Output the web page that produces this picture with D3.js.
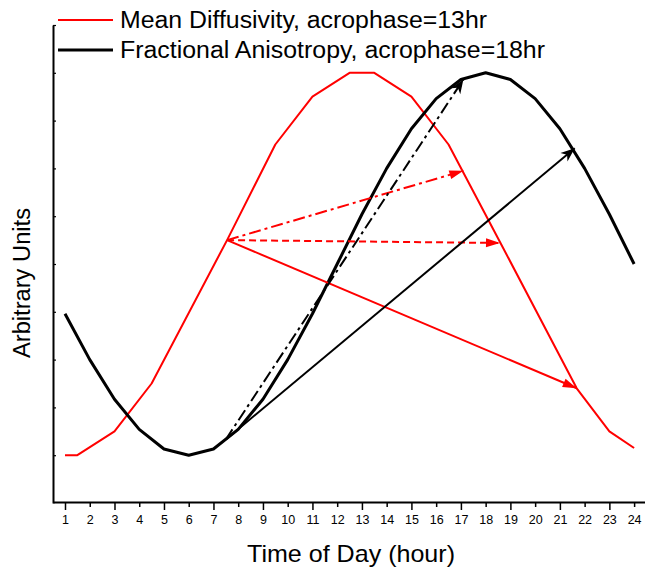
<!DOCTYPE html>
<html>
<head>
<meta charset="utf-8">
<script src="https://cdn.jsdelivr.net/npm/d3@7"></script>
<style>
  body { margin: 0; background: #fff; }
  svg { display: block; font-family: "Liberation Sans", Arial, sans-serif; }
</style>
</head>
<body>
<svg id="chart" width="645" height="568"></svg>
<script>
// tick labels
const hourTicks = [1, 2, 3, 4, 5, 6, 7, 8, 9, 10, 11, 12, 13, 14, 15, 16, 17, 18, 19, 20, 21, 22, 23, 24];
const valueTicks = [1, 2, 3, 4, 5, 6, 7, 8, 9, 10];

// Mean Diffusivity (red)
const mdHour = [1, 1.5, 3, 4.5, 7.55, 9.5, 11, 12.5, 13.5, 15, 16.5, 18.6, 21.68, 23, 24];
const mdValue = [1.0, 1.0, 1.5, 2.5, 5.5, 7.5, 8.5, 9.0, 9.0, 8.5, 7.5, 5.44, 2.4, 1.5, 1.15];

// Fractional Anisotropy (black)
const faHour = [1, 2, 3, 4, 5, 6, 7, 8, 9, 10, 11, 12, 13, 14, 15, 16, 17, 18, 19, 20, 21, 22, 23, 24];
const faValue = [3.96, 3.0, 2.17, 1.54, 1.13, 1.0, 1.13, 1.54, 2.17, 3.0, 3.96, 5.0, 6.04, 7.0, 7.83, 8.46, 8.86, 9.0, 8.86, 8.46, 7.83, 7.0, 6.04, 5.0];

// arrows
const arrowSeries = ["MD", "MD", "MD", "FA", "FA"];
const arrowType = ["dashdot", "dash", "solid", "dashdot", "solid"];
const arrowStartHour = [7.55, 7.55, 7.55, 7.5, 7.5];
const arrowStartValue = [5.5, 5.5, 5.5, 1.33, 1.33];
const arrowEndHour = [17.1, 18.58, 21.68, 17.1, 21.6];
const arrowEndValue = [6.95, 5.44, 2.4, 8.86, 7.42];

const legendLabels = ["Mean Diffusivity, acrophase=13hr", "Fractional Anisotropy, acrophase=18hr"];

const svg = d3.select("#chart");

const x = d3.scaleLinear().domain([0.515, 24.44]).range([53, 645]);
const y = d3.scaleLinear().domain([0, 10]).range([503, 25]);

const colorOf = { MD: "#ff0000", FA: "#000000" };
const dashOf = { dashdot: "12,4,3,4", dash: "7,4", solid: null };

// markers
const defs = svg.append("defs");
defs.append("marker")
    .attr("id", "arrow-MD")
    .attr("viewBox", "-15 -6 16 12")
    .attr("refX", 0).attr("refY", 0)
    .attr("markerWidth", 16).attr("markerHeight", 12)
    .attr("markerUnits", "userSpaceOnUse")
    .attr("orient", "auto")
    .append("path")
    .attr("d", "M0,0 L-14,-4.5 L-14,4.5 Z")
    .attr("fill", colorOf.MD);
defs.append("marker")
    .attr("id", "arrow-FA")
    .attr("viewBox", "-15 -7 16 14")
    .attr("refX", 0).attr("refY", 0)
    .attr("markerWidth", 16).attr("markerHeight", 14)
    .attr("markerUnits", "userSpaceOnUse")
    .attr("orient", "auto")
    .append("path")
    .attr("d", "M0,0 L-14,-5.5 L-10,0 L-14,5.5 Z")
    .attr("fill", colorOf.FA);

// x axis
const xAxis = svg.append("g")
    .attr("transform", "translate(0,502)")
    .call(d3.axisBottom(x).tickValues(hourTicks).tickSizeOuter(0).tickFormat(d3.format("d")));
xAxis.select(".domain").attr("stroke-width", 2);
xAxis.selectAll(".tick line")
    .attr("stroke-width", 1.5)
    .attr("y2", d => d % 2 === 1 ? 8 : 5);
xAxis.selectAll(".tick text")
    .attr("y", 13)
    .attr("font-size", 12.5)
    .attr("font-family", "Liberation Sans, Arial, sans-serif");

// y axis (ticks inside, no labels)
const yAxis = svg.append("g")
    .attr("transform", "translate(53,0)")
    .call(d3.axisRight(y).tickValues(valueTicks).tickSize(3).tickSizeOuter(0).tickFormat(""));
yAxis.select(".domain").attr("stroke-width", 2);
yAxis.selectAll(".tick line").attr("stroke-width", 1.2);

// curves
const line = d3.line().x(d => x(d[0])).y(d => y(d[1]));

svg.append("path")
    .datum(mdHour.map((h, i) => [h, mdValue[i]]))
    .attr("d", line)
    .attr("fill", "none")
    .attr("stroke", colorOf.MD)
    .attr("stroke-width", 2)
    .attr("stroke-linejoin", "round");

svg.append("path")
    .datum(faHour.map((h, i) => [h, faValue[i]]))
    .attr("d", line)
    .attr("fill", "none")
    .attr("stroke", colorOf.FA)
    .attr("stroke-width", 3)
    .attr("stroke-linejoin", "round");

// arrows
arrowSeries.forEach(function (s, i) {
    svg.append("line")
        .attr("x1", x(arrowStartHour[i]))
        .attr("y1", y(arrowStartValue[i]))
        .attr("x2", x(arrowEndHour[i]))
        .attr("y2", y(arrowEndValue[i]))
        .attr("stroke", colorOf[s])
        .attr("stroke-width", 2)
        .attr("stroke-dasharray", dashOf[arrowType[i]])
        .attr("marker-end", "url(#arrow-" + s + ")");
});

// legend
const legendWidths = [367, 425];
const legend = svg.append("g");
legendLabels.forEach(function (lab, i) {
    const s = i === 0 ? "MD" : "FA";
    const ly = 20 + i * 30;
    legend.append("line")
        .attr("x1", 58).attr("x2", 113)
        .attr("y1", ly).attr("y2", ly)
        .attr("stroke", colorOf[s])
        .attr("stroke-width", i === 0 ? 2 : 3);
    legend.append("text")
        .attr("x", 120)
        .attr("y", ly + 8)
        .attr("font-size", 23)
        .attr("textLength", legendWidths[i])
        .attr("lengthAdjust", "spacingAndGlyphs")
        .text(lab);
});

// axis titles
svg.append("text")
    .attr("x", 351)
    .attr("y", 562)
    .attr("text-anchor", "middle")
    .attr("font-size", 24)
    .attr("textLength", 208)
    .attr("lengthAdjust", "spacingAndGlyphs")
    .text("Time of Day (hour)");

svg.append("text")
    .attr("transform", "translate(30,283) rotate(-90)")
    .attr("text-anchor", "middle")
    .attr("font-size", 23)
    .attr("textLength", 150)
    .attr("lengthAdjust", "spacingAndGlyphs")
    .text("Arbitrary Units");
</script>
</body>
</html>
